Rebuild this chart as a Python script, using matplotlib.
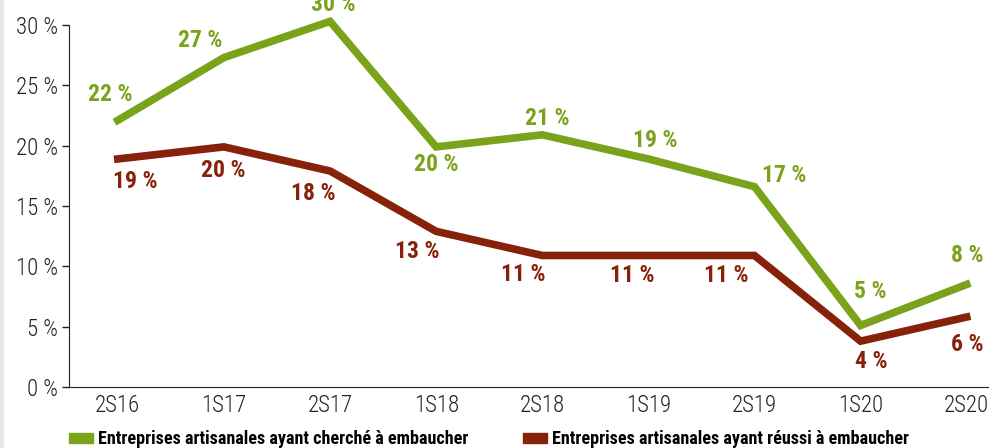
import matplotlib.pyplot as plt
from matplotlib import font_manager
from matplotlib.patches import FancyBboxPatch, Patch

periods = ['2S16', '1S17', '2S17', '1S18', '2S18', '1S19', '2S19', '1S20', '2S20']
cherche = [22.1, 27.3, 30.3, 19.9, 20.9, 18.9, 16.6, 5.1, 8.5]
reussi = [18.9, 19.9, 17.9, 12.9, 10.9, 10.9, 10.9, 3.8, 5.8]
legend_labels = ['Entreprises artisanales ayant cherché à embaucher',
                 'Entreprises artisanales ayant réussi à embaucher']

green = '#7aa31b'
red = '#86220a'

# prefer a narrow sans if one is around
available = {f.name for f in font_manager.fontManager.ttflist}
narrow = [n for n in ['Liberation Sans Narrow', 'DejaVu Sans Condensed', 'Roboto Condensed',
                      'Open Sans Condensed'] if n in available]
plt.rcParams['font.family'] = narrow + ['DejaVu Sans']
plt.rcParams['font.stretch'] = 'condensed'

fig = plt.figure(figsize=(9.89, 4.48), dpi=100)
ax = fig.add_axes([69 / 989, 1 - 387 / 448, 920 / 989, 362 / 448])

frame = FancyBboxPatch((0.002, -0.03), 1.2, 1.2, boxstyle='round,pad=0,rounding_size=0.03',
                       transform=fig.transFigure, facecolor='none', edgecolor='#e8e8e3',
                       linewidth=3, zorder=0)
fig.patches.append(frame)

x = range(len(periods))
ax.plot(x, cherche, color=green, linewidth=5.5, solid_joinstyle='miter', clip_on=False)
ax.plot(x, reussi, color=red, linewidth=5.5, solid_joinstyle='miter', clip_on=False)

# label offsets in pixels from each point
green_off = [(-8, 26), (-24, 17), (3, 17), (0, -18), (5, 16), (7, 18), (30, 11), (10, 34), (1, 29)]
red_off = [(17, -23), (-1, -24), (-17, -22), (-19, -20), (-19, -19), (-16, -20), (-28, -20),
           (11, -20), (1, -27)]
for i, (v, off) in enumerate(zip(cherche, green_off)):
    ax.annotate(f'{round(v)} %', (i, v), xytext=off, textcoords='offset pixels',
                ha='center', va='center', color=green, fontsize=17, fontweight='bold',
                annotation_clip=False)
for i, (v, off) in enumerate(zip(reussi, red_off)):
    ax.annotate(f'{round(v)} %', (i, v), xytext=off, textcoords='offset pixels',
                ha='center', va='center', color=red, fontsize=17, fontweight='bold',
                annotation_clip=False)

ax.set_xlim(-0.46, 8.21)
ax.set_ylim(0, 30)
ax.set_yticks(range(0, 31, 5))
ax.set_yticklabels([f'{t} %' for t in range(0, 31, 5)], fontweight='light')
ax.set_xticks(list(x))
ax.set_xticklabels(periods, fontweight='light')
ax.tick_params(axis='y', labelsize=16.5, length=5, width=1, colors='#222222', pad=3)
ax.tick_params(axis='x', labelsize=16.5, length=0, colors='#222222', pad=5)
for side in ['top', 'right']:
    ax.spines[side].set_visible(False)
ax.spines['left'].set_color('#222222')
ax.spines['bottom'].set_color('#222222')

handles = [Patch(color=green), Patch(color=red)]
fig.legend(handles, legend_labels, loc='lower left', bbox_to_anchor=(0.053, -0.037), ncol=2,
           frameon=False, handlelength=1.35, handleheight=0.45, handletextpad=0.25,
           columnspacing=3.0, prop={'size': 13.1, 'weight': 'bold'})

fig.savefig('out.png', dpi=100)
